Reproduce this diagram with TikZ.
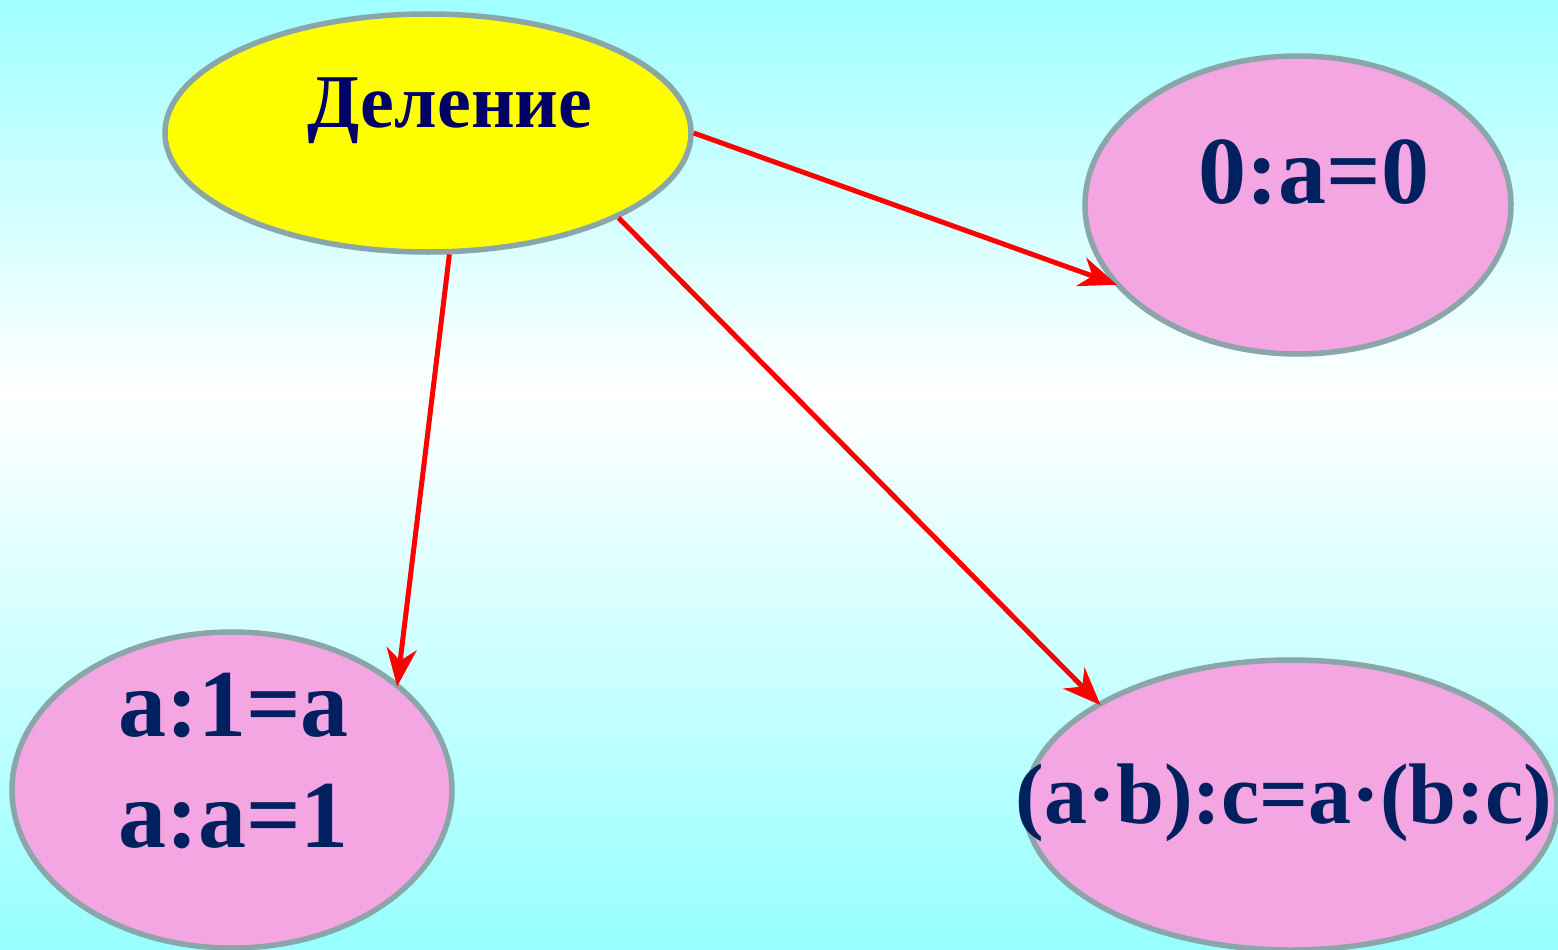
\documentclass[tikz,border=0pt]{standalone}
\usepackage{fontspec}
\setmainfont{Liberation Serif}
\usetikzlibrary{shapes.geometric,arrows.meta}
\definecolor{bgcyan}{HTML}{A0FFFF}
\definecolor{bgcyanb}{HTML}{96FFFF}
\definecolor{rim}{HTML}{8AA6A8}
\definecolor{pinkfill}{HTML}{F4A6E2}
\definecolor{navy}{HTML}{002060}
\definecolor{deepnavy}{HTML}{000066}
\definecolor{pureyellow}{HTML}{FFFF00}
\tikzset{
  oval/.style={ellipse, draw=rim, line width=5.5pt, inner sep=0pt},
  formula/.style={text=navy, font=\fontsize{96}{111}\selectfont\bfseries, inner sep=0pt, align=left},
  link/.style={draw=red, line width=5pt, -{Stealth[length=38pt,width=30pt,inset=12pt]}, shorten >=-4pt}
}
\begin{document}
\begin{tikzpicture}[x=1pt,y=-1pt]
\useasboundingbox (0,0) rectangle (1558,950);
\shade[top color=bgcyan, bottom color=white] (0,0) rectangle (1558,395);
\shade[top color=white, bottom color=bgcyanb] (0,395) rectangle (1558,950);
% ellipses
\node[oval, fill=pureyellow, minimum width=526pt, minimum height=238pt] (div) at (428,133) {};
\node[oval, fill=pinkfill, minimum width=426pt, minimum height=298pt] (zero) at (1298,205) {};
\node[oval, fill=pinkfill, minimum width=440pt, minimum height=316pt] (one) at (232,790) {};
\node[oval, fill=pinkfill, minimum width=532pt, minimum height=290pt] (assoc) at (1291,805) {};
% texts
\node[text=deepnavy, font=\fontsize{76}{80}\selectfont\bfseries, inner sep=0pt, anchor=base] (divt) at (450,127) {Деление};
\node[formula, anchor=base] (zerot) at (1314,203) {0:a=0};
\node[formula, anchor=base west] (onet) at (118,736) {a:1=a};
\node[formula, anchor=base west] (onet2) at (118,847) {a:a=1};
\node[formula, font=\fontsize{86}{100}\selectfont\bfseries, anchor=base] (assoct) at (1284,823) {(a·b):c=a·(b:c)};
% arrows
\draw[link] (div.-80) -- (one.33);
\draw[link] (div.0) -- (zero.203);
\draw[link] (div.-24) -- (assoc.152);
\end{tikzpicture}
\end{document}
